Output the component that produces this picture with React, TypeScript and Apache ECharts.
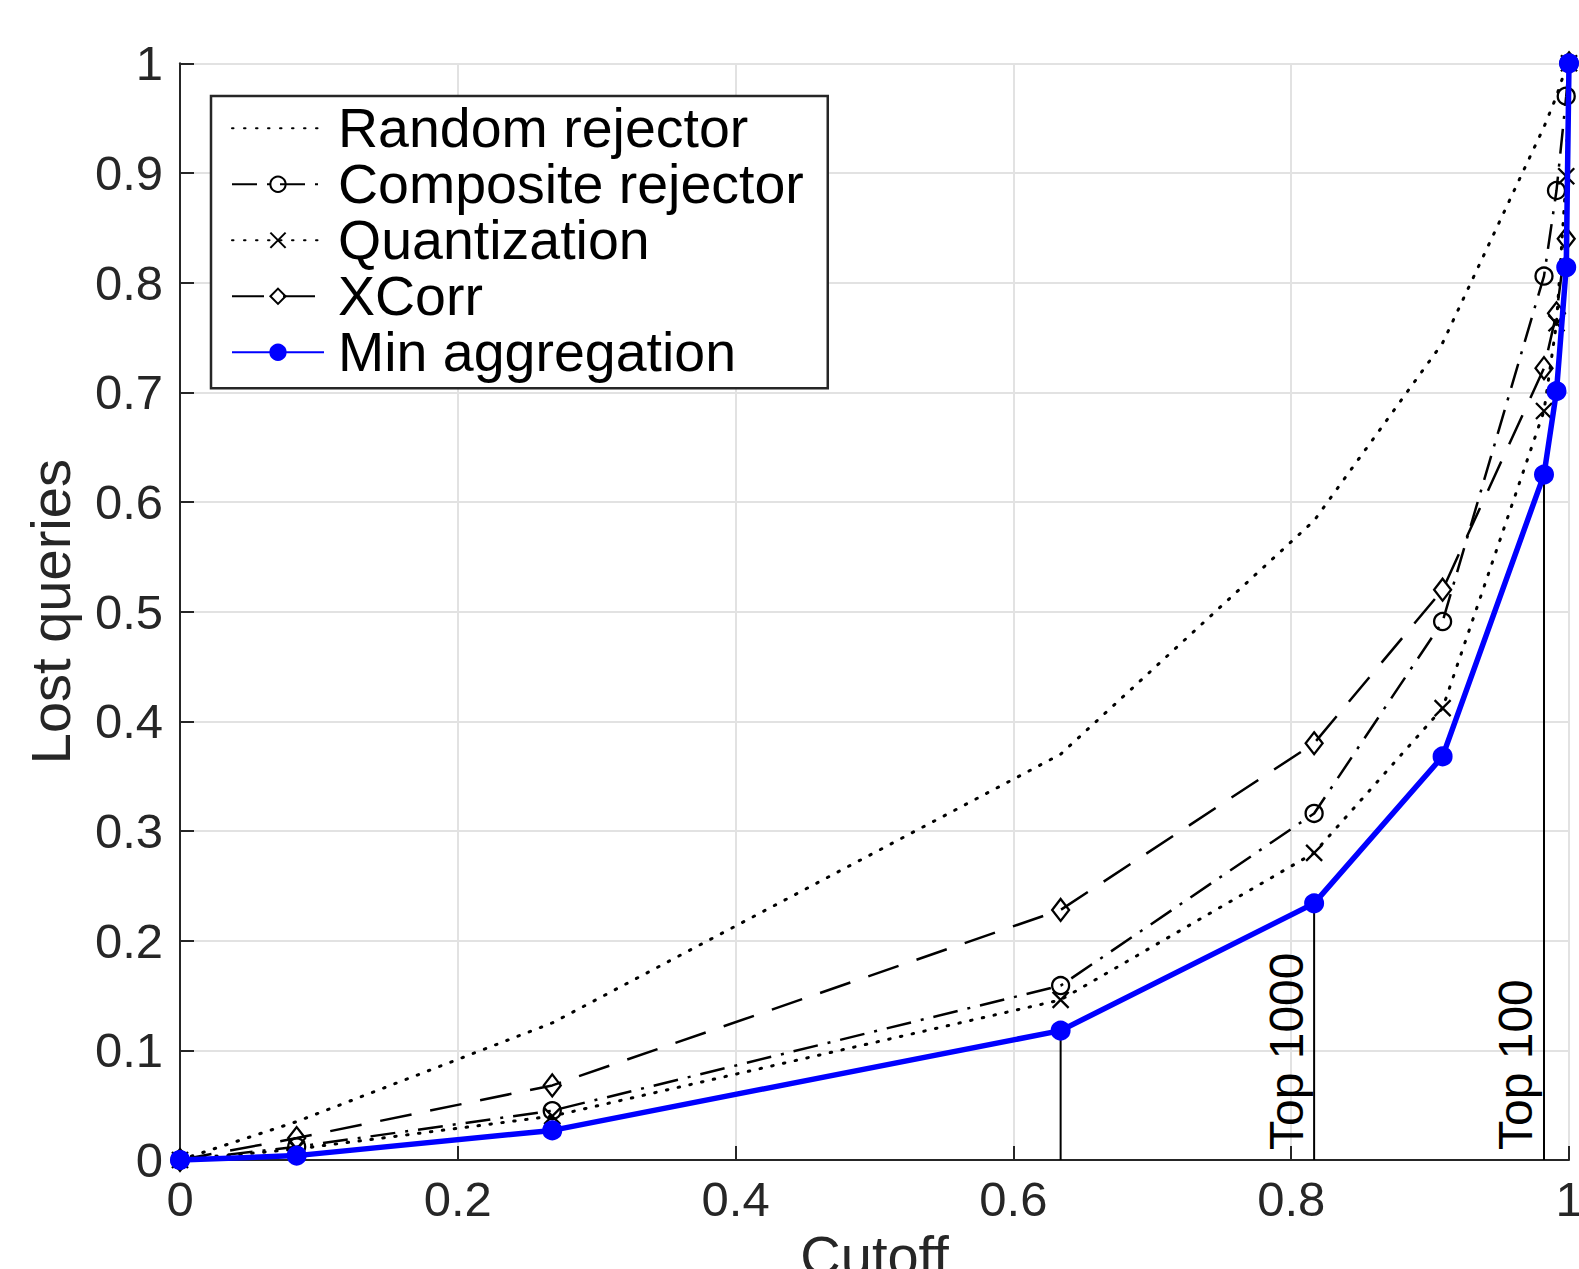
import React, { useEffect, useRef } from "react";
import * as echarts from "echarts";

// ---- data ----
const cutoffs = [0, 0.084, 0.268, 0.634, 0.8165, 0.909, 0.982, 0.991, 0.998, 1];
const randomRejector = [0, 0.035, 0.125, 0.37, 0.583, 0.745, 0.942, 0.97, 0.997, 1];
const compositeRejector = [0, 0.012, 0.045, 0.159, 0.316, 0.491, 0.806, 0.884, 0.97, 1];
const quantization = [0, 0.01, 0.04, 0.146, 0.28, 0.412, 0.683, 0.763, 0.897, 1];
const xcorr = [0, 0.02, 0.068, 0.228, 0.38, 0.52, 0.722, 0.772, 0.84, 1];
const minAggregation = [0, 0.004, 0.027, 0.118, 0.234, 0.368, 0.625, 0.701, 0.814, 1];

const seriesNames = [
  "Random rejector",
  "Composite rejector",
  "Quantization",
  "XCorr",
  "Min aggregation",
];

const xTickValues = [0, 0.2, 0.4, 0.6, 0.8, 1];
const yTickValues = [0, 0.1, 0.2, 0.3, 0.4, 0.5, 0.6, 0.7, 0.8, 0.9, 1];

// vertical markers dropped from Min aggregation points
const dropIndices = [3, 4, 6];
const dropLabels = ["", "Top 1000", "Top 100"];

const FONT = "'Liberation Sans', Arial, Helvetica, sans-serif";
const AXIS_COLOR = "#262626";
const W = 1579;
const H = 1269;

const pairs = (ys: number[]) => cutoffs.map((x, i) => [x, ys[i]]);

export default function App() {
  const ref = useRef<HTMLDivElement>(null);

  useEffect(() => {
    if (!ref.current) return;
    const chart = echarts.init(ref.current, undefined, { renderer: "svg", width: W, height: H });

    const blackMarker = {
      color: "rgba(0,0,0,0)",
      borderColor: "#000",
      borderWidth: 2.3,
    };

    const fmt = (v: number) => String(Math.round(v * 10) / 10);

    const dropSeries = dropIndices.map((idx) => ({
      type: "line",
      name: "drop" + idx,
      data: [
        [cutoffs[idx], 0],
        [cutoffs[idx], minAggregation[idx]],
      ],
      symbol: "none",
      lineStyle: { color: "#000", width: 2 },
      silent: true,
      z: 1,
    }));

    const option: any = {
      animation: false,
      backgroundColor: "#fff",
      grid: {
        left: 180,
        right: 10,
        top: 63.3,
        bottom: 109,
        containLabel: false,
        outerBoundsMode: "none",
      },
      xAxis: {
        type: "value",
        min: 0,
        max: 1,
        interval: 0.2,
        axisLine: { show: true, onZero: false, lineStyle: { color: AXIS_COLOR, width: 2 } },
        axisTick: { show: true, inside: true, length: 14, lineStyle: { color: AXIS_COLOR, width: 2 } },
        splitLine: { show: true, lineStyle: { color: "#e2e2e2", width: 2 } },
        axisLabel: {
          fontSize: 49,
          color: AXIS_COLOR,
          fontFamily: FONT,
          margin: 14,
          showMinLabel: true,
          showMaxLabel: true,
          formatter: (v: number) => (xTickValues.some((t) => Math.abs(t - v) < 1e-9) ? fmt(v) : ""),
        },
        name: "Cutoff",
        nameLocation: "middle",
        nameGap: 62,
        nameTextStyle: { fontSize: 56, color: AXIS_COLOR, fontFamily: FONT },
      },
      yAxis: {
        type: "value",
        min: 0,
        max: 1,
        interval: 0.1,
        axisLine: { show: true, onZero: false, lineStyle: { color: AXIS_COLOR, width: 2 } },
        axisTick: { show: true, inside: true, length: 14, lineStyle: { color: AXIS_COLOR, width: 2 } },
        splitLine: { show: true, lineStyle: { color: "#e2e2e2", width: 2 } },
        axisLabel: {
          fontSize: 49,
          color: AXIS_COLOR,
          fontFamily: FONT,
          margin: 17,
          showMinLabel: true,
          showMaxLabel: true,
          formatter: (v: number) => (yTickValues.some((t) => Math.abs(t - v) < 1e-9) ? fmt(v) : ""),
        },
        name: "Lost queries",
        nameLocation: "middle",
        nameGap: 102,
        nameRotate: 90,
        nameTextStyle: { fontSize: 56, color: AXIS_COLOR, fontFamily: FONT },
      },
      legend: {
        orient: "vertical",
        left: 211,
        top: 96,
        padding: [4.25, 24, 8, 20],
        itemWidth: 92,
        itemHeight: 19,
        itemGap: 0,
        backgroundColor: "#fff",
        borderColor: AXIS_COLOR,
        borderWidth: 2.5,
        borderRadius: 0,
        data: seriesNames,
        textStyle: {
          fontSize: 55.5,
          fontFamily: FONT,
          color: "#000",
          padding: [0, 0, 0, 9],
        },
      },
      series: [
        ...dropSeries,
        {
          type: "line",
          name: seriesNames[0],
          data: pairs(randomRejector),
          symbol: "circle",
          showSymbol: false,
          symbolSize: 0,
          lineStyle: { color: "#000", width: 3, type: [1.5, 10.5], cap: "round" },
          itemStyle: { color: "rgba(0,0,0,0)", borderWidth: 0 },
          clip: false,
          z: 2,
        },
        {
          type: "line",
          name: seriesNames[1],
          data: pairs(compositeRejector),
          symbol: "circle",
          symbolSize: 17,
          lineStyle: { color: "#000", width: 2.5, type: [25, 10, 3, 10] },
          itemStyle: blackMarker,
          clip: false,
          z: 3,
        },
        {
          type: "line",
          name: seriesNames[2],
          data: pairs(quantization),
          symbol: "path://M0 0L10 10M10 0L0 10",
          symbolSize: 16,
          lineStyle: { color: "#000", width: 3, type: [1.5, 10.5], cap: "round" },
          itemStyle: blackMarker,
          clip: false,
          z: 4,
        },
        {
          type: "line",
          name: seriesNames[3],
          data: pairs(xcorr),
          symbol: "diamond",
          symbolSize: [17, 22],
          lineStyle: { color: "#000", width: 2.5, type: [32, 19] },
          itemStyle: blackMarker,
          clip: false,
          z: 5,
        },
        {
          type: "line",
          name: seriesNames[4],
          data: pairs(minAggregation),
          symbol: "circle",
          symbolSize: 16,
          lineStyle: { color: "#0000ff", width: 5.5 },
          itemStyle: { color: "#0000ff", borderColor: "#0000ff", borderWidth: 4 },
          clip: false,
          z: 6,
        },
      ],
    };

    chart.setOption(option);

    const graphics: any[] = [];
    dropIndices.forEach((idx, k) => {
      const label = dropLabels[k];
      if (!label) return;
      const p = chart.convertToPixel({ gridIndex: 0 }, [cutoffs[idx], 0]) as number[];
      graphics.push({
        type: "text",
        x: p[0] - 4,
        y: p[1] - 10,
        rotation: Math.PI / 2,
        style: {
          text: label,
          fontSize: 48,
          fontFamily: FONT,
          fill: "#000",
          align: "left",
          verticalAlign: "bottom",
        },
        z: 10,
      });
    });
    chart.setOption({ graphic: graphics });

    return () => chart.dispose();
  }, []);

  return (
    <div
      ref={ref}
      style={{ position: "fixed", left: 0, top: 0, width: W, height: H, background: "#fff" }}
    />
  );
}
